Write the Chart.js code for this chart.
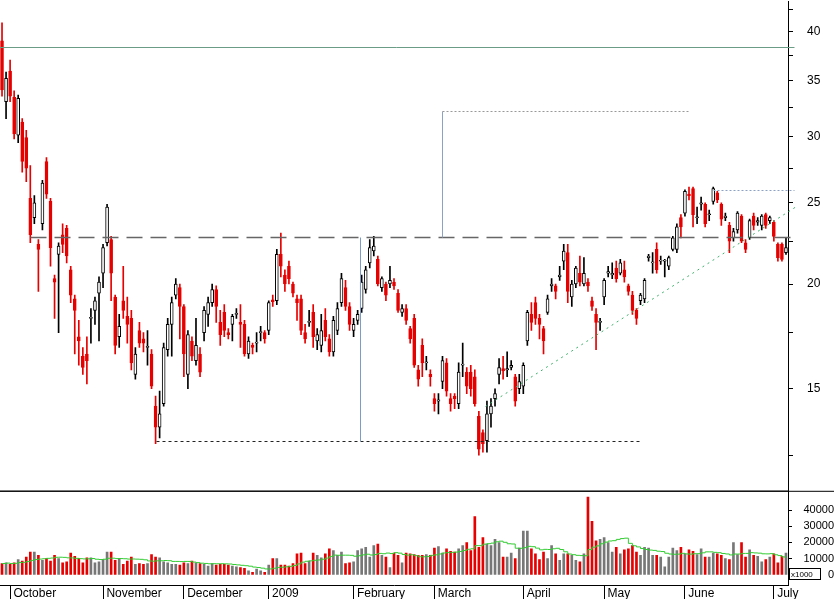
<!DOCTYPE html>
<html>
<head>
<meta charset="utf-8">
<script src="https://cdn.jsdelivr.net/npm/chart.js@4.4.1/dist/chart.umd.min.js"></script>
<style>
  body { margin: 0; background: #fff; }
  #wrap { position: relative; width: 834px; height: 599px; overflow: hidden; }
  #price { position: absolute; left: 0; top: -20px; }
  #vol { position: absolute; left: 0; top: 482px; }
</style>
</head>
<body>
<div id="wrap">
  <div id="price" style="width:834px;height:533px"><canvas id="priceChart"></canvas></div>
  <div id="vol" style="width:834px;height:117px"><canvas id="volChart"></canvas></div>
</div>
<script>
// daily candles, late Sep 2008 .. early Jul 2009
const opens = [39.0,33.0,35.9,33.4,30.1,31.2,29.9,25.3,24.0,22.3,
  23.6,28.0,25.1,20.3,21.7,22.9,23.3,20.8,19.2,17.3,
  16.4,16.5,18.2,18.6,19.5,20.6,22.4,22.6,19.3,17.3,
  19.1,18.3,18.2,15.6,17.6,17.2,16.8,16.5,14.3,13.5,
  14.4,16.7,17.9,19.4,19.8,18.8,15.6,17.1,16.2,16.5,
  17.5,18.4,19.0,19.7,18.0,18.5,17.5,17.9,18.4,18.0,
  17.9,16.5,16.9,17.0,17.5,17.5,17.6,19.15,19.1,21.7,
  20.5,21.0,20.0,19.2,19.2,17.5,18.0,18.5,17.1,16.9,
  18.1,17.2,16.6,17.6,19.0,19.8,18.8,17.6,18.1,18.7,
  19.7,21.2,21.9,21.4,19.8,20.0,20.0,20.1,19.5,18.5,
  18.7,17.7,18.2,15.8,16.9,16.1,15.6,14.6,14.5,15.3,
  16.1,14.6,14.7,14.4,16.0,15.7,15.7,15.5,13.9,13.3,
  13.0,14.0,14.6,15.6,15.85,15.8,15.9,15.5,15.0,15.1,
  17.1,18.4,19.0,18.2,17.7,18.5,19.9,19.9,20.4,21.3,
  21.8,19.3,20.0,20.6,20.0,20.1,19.1,18.4,18.0,19.3,
  20.6,20.5,20.9,20.6,20.8,19.9,19.4,18.6,19.1,19.2,
  21.5,21.2,22.0,21.3,21.3,21.0,22.0,22.0,24.0,24.3,
  25.6,26.0,24.0,24.9,24.9,24.2,25.1,25.7,24.9,24.0,
  23.5,22.7,23.2,24.1,22.4,22.7,24.1,23.7,23.5,24.2,
  23.8,23.7,22.3,22.3,21.8]
const highs = [41.0,35.8,37.0,34.0,33.6,31.5,30.5,27.7,25.5,22.6,
  26.6,28.3,25.3,20.5,22.4,23.6,23.5,21.0,19.4,18.1,
  16.8,17.3,18.7,19.3,20.4,22.3,24.9,22.8,19.4,18.4,
  21.0,19.3,18.6,16.8,18.0,17.5,17.6,16.7,14.7,14.9,
  17.0,18.2,19.3,20.3,20.0,18.9,17.6,17.3,18.2,16.8,
  18.8,19.3,20.0,19.9,18.6,18.9,17.7,18.4,18.7,18.9,
  18.1,17.3,17.0,17.5,17.8,17.6,19.1,19.4,22.0,23.0,
  20.8,21.3,20.1,19.4,19.4,17.9,18.6,18.9,17.7,18.4,
  18.7,17.4,18.3,19.0,20.6,20.2,19.0,18.2,18.6,20.5,
  21.0,22.6,22.8,21.6,20.4,20.1,21.0,20.3,19.7,18.9,
  18.9,17.8,18.4,16.0,17.2,16.4,15.8,14.8,14.8,16.4,
  16.3,14.8,14.8,16.1,17.0,15.9,16.0,15.8,14.1,13.4,
  14.5,14.6,15.0,16.3,16.4,16.6,16.2,15.6,15.6,16.1,
  18.6,19.0,19.3,18.4,17.8,19.4,20.3,20.0,21.0,22.3,
  22.3,20.2,21.0,21.6,21.5,20.3,19.3,18.7,18.2,20.3,
  21.0,21.2,21.3,21.4,21.3,20.0,19.6,18.7,19.5,20.3,
  21.7,21.8,22.4,21.6,21.4,21.6,22.8,23.6,24.2,25.9,
  26.1,26.1,24.7,25.4,25.0,24.5,26.1,25.8,25.0,24.3,
  23.7,23.3,24.4,24.2,22.6,23.9,24.3,24.0,24.2,24.3,
  24.1,23.8,22.4,22.4,22.7]
const lows = [33.5,31.5,33.0,29.8,29.5,27.2,26.5,22.4,23.6,19.6,
  23.2,25.3,21.0,18.2,17.5,21.8,21.2,19.0,16.5,16.0,
  15.6,15.2,17.0,17.9,17.1,19.8,22.2,19.1,16.5,16.8,
  18.2,17.0,15.8,15.4,16.8,16.6,16.0,15.0,12.9,13.1,
  14.3,16.4,16.4,19.2,17.2,15.5,15.0,16.2,16.0,15.5,
  17.1,17.8,18.8,18.0,16.9,17.3,17.2,17.1,18.2,16.8,
  16.4,16.3,16.5,16.6,17.1,17.0,17.4,18.8,18.9,20.4,
  19.6,20.0,19.3,18.1,17.4,17.0,17.8,16.8,16.7,16.6,
  17.1,16.4,16.4,17.4,18.8,18.6,17.6,17.3,17.9,18.5,
  19.5,20.9,21.6,19.9,19.6,19.1,19.8,19.7,18.5,18.3,
  17.9,17.0,15.9,15.1,15.5,15.8,15.1,14.1,14.0,15.0,
  14.7,14.1,14.2,14.2,15.5,14.8,14.7,14.3,12.5,12.6,
  12.6,13.5,14.3,15.2,15.4,15.5,15.8,14.3,14.8,14.8,
  16.9,17.6,17.9,17.2,16.5,18.4,19.6,19.2,20.2,20.8,
  19.0,18.8,19.8,19.9,19.9,19.6,18.6,16.7,17.6,18.9,
  20.4,20.3,20.1,20.5,20.1,19.4,18.4,17.9,18.9,19.0,
  21.3,20.6,20.6,21.1,20.4,20.8,21.9,21.8,22.7,24.1,
  25.2,23.4,23.6,24.5,23.4,23.8,24.9,25.0,23.5,23.8,
  21.8,22.5,23.0,22.4,21.8,22.6,23.2,23.5,23.2,23.3,
  23.6,22.5,21.3,21.3,21.7]
const closes = [34.1,35.2,33.5,30.2,33.3,28.0,27.5,22.9,25.0,22.0,
  26.4,25.6,22.1,20.1,22.2,22.3,21.6,19.4,18.6,17.1,
  15.9,16.2,18.25,19.1,20.1,22.1,24.7,20.6,16.9,17.8,
  18.6,17.9,16.1,16.5,17.0,17.0,16.85,15.1,13.5,14.0,
  16.8,17.9,19.0,20.0,18.8,16.5,17.4,16.4,16.9,15.7,
  18.6,19.0,19.7,18.8,17.4,17.6,17.4,18.3,18.45,17.9,
  16.5,17.1,16.8,17.05,17.55,17.2,19.0,19.05,21.7,21.0,
  20.0,20.3,19.5,19.0,17.6,17.2,18.05,17.3,17.4,17.6,
  17.3,16.6,18.1,18.7,20.3,18.8,17.9,17.9,18.4,20.1,
  20.8,22.1,22.2,20.0,20.3,19.4,20.2,19.9,18.6,18.7,
  18.1,17.2,16.0,15.4,16.1,16.15,15.5,14.4,14.55,16.2,
  14.9,14.4,14.6,15.7,16.05,15.1,15.0,14.4,12.7,12.9,
  14.0,14.3,14.8,15.9,15.75,15.85,16.0,14.5,15.3,16.0,
  18.5,18.0,18.2,17.9,17.1,19.2,20.0,19.6,20.5,21.9,
  19.6,20.0,20.9,20.1,20.6,19.9,18.8,18.0,18.05,20.2,
  20.7,20.6,20.3,21.2,20.4,19.6,18.6,18.2,19.4,20.2,
  21.6,21.25,20.8,21.35,21.35,21.5,22.7,23.4,23.4,25.8,
  25.5,24.2,24.05,25.0,23.6,24.25,26.0,25.2,23.9,24.1,
  22.5,23.1,24.3,22.5,22.0,23.8,23.5,23.8,24.1,23.5,
  24.0,22.8,21.5,21.4,22.1]
const volumes = [7000,7500,6500,7500,9500,8500,11000,14000,14000,12000,9000,10000,8500,12000,10000,7500,8000,13500,11500,10000,7500,10500,10500,7500,8000,
  9500,14000,14000,9000,10000,6500,8500,11000,6500,7000,6500,7000,12500,11000,10500,8000,7500,6500,6500,6000,
  7500,7000,8500,7500,7000,6500,5500,7000,6000,6500,6500,6000,5500,5000,4500,4000,2500,1500,3500,2500,1500,
  6000,10000,10000,6000,6000,5500,7000,13000,13500,7000,8500,13500,12000,10500,13000,16000,15000,12000,14000,7000,7500,
  8000,15000,16000,17000,11000,18000,19000,12000,11000,4500,13500,12000,7500,13500,13000,12500,12000,12000,12500,12000,
  16500,17500,13500,16000,14500,14000,16000,18000,20000,15000,36000,17000,23000,19000,18000,22000,20000,11000,11000,13500,10000,16500,
  27000,27000,16000,13000,9500,14000,10000,18000,13000,9000,13000,13000,12000,9000,8000,13000,48000,33000,21000,22000,
  23000,20000,14000,17000,13000,15500,16000,18000,14000,12000,17000,16500,12000,12000,11000,5000,11000,16500,15000,17000,
  13000,15500,14500,12500,16000,11000,11000,13500,13000,12000,10000,9500,20000,12500,20000,11000,15500,12000,11500,8000,9500,11000,
  13000,7500,11500,13500]
// first trading day of each month -> label
const monthStarts = [2, 25, 45, 66, 87, 107, 129, 149, 169, 191]
const monthNames = ['October','November','December','2009','February','March','April','May','June','July']
const priceTicks = [15, 20, 25, 30, 35, 40]
const volTicks = [0, 10000, 20000, 30000, 40000]

const labels = opens.map((_, i) => i)
const up = opens.map((o, i) => closes[i] >= o)
const RED = '#e60000'

// moving average of volume (10 day)
const volMA = volumes.map((_, i) => {
  const s = volumes.slice(Math.max(0, i - 9), i + 1)
  return s.reduce((a, b) => a + b, 0) / s.length
})

const fixRight = (w) => (scale) => { scale.width = w }

// overlay lines drawn from chart values
const overlays = {
  id: 'overlays',
  afterDatasetsDraw(chart) {
    const { ctx, chartArea, scales: { x, y } } = chart
    const line = (x1, p1, x2, p2, color, dash, width) => {
      ctx.save()
      ctx.strokeStyle = color
      ctx.lineWidth = width || 1
      ctx.setLineDash(dash || [])
      ctx.beginPath()
      ctx.moveTo(Math.round(x.getPixelForValue(x1)) + 0.5, Math.round(y.getPixelForValue(p1)) + 0.5)
      ctx.lineTo(Math.round(x.getPixelForValue(x2)) + 0.5, Math.round(y.getPixelForValue(p2)) + 0.5)
      ctx.stroke()
      ctx.restore()
    }
    line(-1, 38.4, 196, 38.4, '#6a9c86')
    line(7, 22.75, 196, 22.75, '#666', [16, 8], 1.5)
    line(38, 13.0, 158, 13.0, '#222', [3, 3])
    line(88.5, 22.75, 88.5, 13.0, '#7c9cc8')
    line(109, 32.2, 109, 22.75, '#8ca2c4')
    line(109, 32.2, 170, 32.2, '#999', [2, 2])
    line(176, 25.9, 196, 25.9, '#8ca2c4', [2, 2])
    line(119.5, 14.3, 196.5, 24.8, '#3cb06a', [2, 4])
    ctx.save()
    ctx.strokeStyle = '#000'
    ctx.beginPath()
    ctx.moveTo(0, chartArea.bottom - 0.5)
    ctx.lineTo(chart.width, chartArea.bottom - 0.5)
    ctx.stroke()
    ctx.restore()
  }
}

new Chart(document.getElementById('priceChart'), {
  type: 'bar',
  data: {
    labels: labels,
    datasets: [{
      data: opens.map((o, i) => [o, closes[i]]),
      backgroundColor: up.map(u => u ? '#fff' : RED),
      borderColor: up.map(u => u ? '#000' : RED),
      borderWidth: 1,
      borderSkipped: false,
      barThickness: 3,
      grouped: false
    }, {
      data: lows.map((l, i) => [l, highs[i]]),
      backgroundColor: up.map(u => u ? '#000' : RED),
      barThickness: 1,
      grouped: false
    }]
  },
  options: {
    animation: false,
    responsive: true,
    maintainAspectRatio: false,
    layout: { padding: 0, autoPadding: false },
    plugins: { legend: { display: false }, tooltip: { enabled: false } },
    scales: {
      x: { display: false, offset: true },
      y: {
        type: 'logarithmic',
        position: 'right',
        min: 11.3,
        max: 43.5,
        afterFit: fixRight(46),
        afterBuildTicks: (scale) => {
          scale.ticks = [12.5, 15, 17.5, 20, 22.5, 25, 27.5, 30, 32.5, 35, 37.5, 40, 42.5].map(v => ({ value: v }))
        },
        ticks: {
          color: '#000',
          font: { family: 'Liberation Sans', size: 12 },
          padding: 14,
          callback: (v) => priceTicks.includes(v) ? String(v) : ''
        },
        grid: { drawOnChartArea: false, color: '#000', tickLength: 5 },
        border: { color: '#000' }
      }
    }
  },
  plugins: [overlays]
})

const volFrame = {
  id: 'volFrame',
  afterDraw(chart) {
    const { ctx, chartArea } = chart
    ctx.save()
    ctx.strokeStyle = '#000'
    ctx.beginPath()
    ctx.moveTo(0, chartArea.top + 0.5)
    ctx.lineTo(chartArea.right, chartArea.top + 0.5)
    ctx.stroke()
    ctx.fillStyle = '#fff'
    ctx.fillRect(789, chartArea.bottom - 17, 32, 12)
    ctx.strokeRect(789.5, chartArea.bottom - 16.5, 31, 11)
    ctx.fillStyle = '#000'
    ctx.font = '8px "Liberation Sans"'
    ctx.fillText('x1000', 791, chartArea.bottom - 8)
    ctx.restore()
  }
}

new Chart(document.getElementById('volChart'), {
  type: 'bar',
  data: {
    labels: labels,
    datasets: [{
      type: 'line',
      data: volMA,
      borderColor: '#33cc33',
      borderWidth: 1,
      pointRadius: 0,
      stepped: true
    }, {
      data: volumes,
      backgroundColor: up.map(u => u ? '#777' : RED),
      barThickness: 2
    }]
  },
  options: {
    animation: false,
    responsive: true,
    maintainAspectRatio: false,
    layout: { padding: 0, autoPadding: false },
    plugins: { legend: { display: false }, tooltip: { enabled: false } },
    scales: {
      x: {
        offset: true,
        afterFit: (scale) => { scale.height = 14 },
        afterBuildTicks: (scale) => {
          scale.ticks = monthStarts.map(v => ({ value: v }))
        },
        ticks: {
          autoSkip: false,
          maxRotation: 0,
          align: 'start',
          padding: -13,
          color: '#000',
          font: { family: 'Liberation Sans', size: 12 },
          callback: (v) => ' ' + monthNames[monthStarts.indexOf(v)]
        },
        grid: { drawOnChartArea: false, color: '#000', tickLength: 14, offset: false },
        border: { color: '#000' }
      },
      y: {
        position: 'right',
        min: -6250,
        max: 52000,
        afterFit: fixRight(46),
        afterBuildTicks: (scale) => {
          scale.ticks = volTicks.map(v => ({ value: v }))
        },
        ticks: {
          color: '#000',
          font: { family: 'Liberation Sans', size: 11 },
          padding: 2,
          crossAlign: 'far',
          callback: (v) => String(v)
        },
        grid: { drawOnChartArea: false, color: '#000', tickLength: 4 },
        border: { color: '#000' }
      }
    }
  },
  plugins: [volFrame]
})
</script>
</body>
</html>
